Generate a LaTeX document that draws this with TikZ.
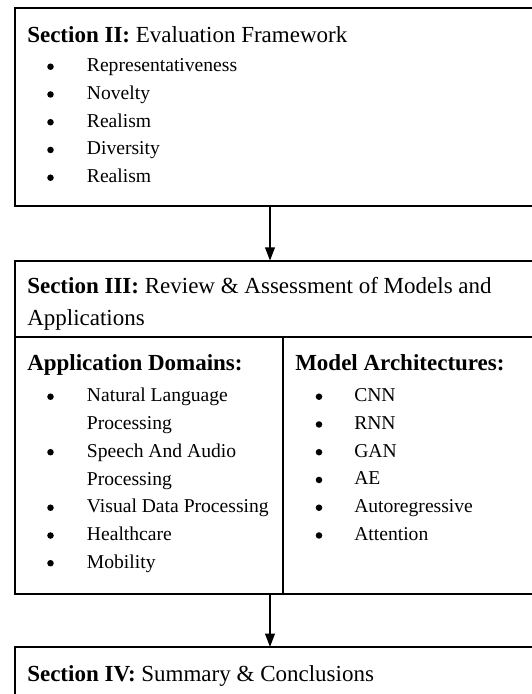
\documentclass[tikz,border=0pt]{standalone}
\usepackage{fontspec}
\setmainfont{Liberation Serif}
\usetikzlibrary{arrows.meta}
\begin{document}
\begin{tikzpicture}[x=0.75pt,y=-0.75pt,
  box/.style={draw, line width=1.5pt, rectangle, inner sep=0pt, outer sep=0pt, anchor=north west},
  rule/.style={line width=1.5pt},
  head/.style={anchor=base west, inner sep=0pt, font=\fontsize{17.25}{20}\selectfont},
  item/.style={anchor=base west, inner sep=0pt, font=\fontsize{14.7}{18}\selectfont},
  dot/.style={circle, fill, inner sep=0pt, minimum size=4.9pt},
  flow/.style={line width=1.5pt, -{Triangle[length=10pt,width=7.2pt]}}]
\useasboundingbox (0,0) rectangle (532,694);
\clip (0,0) rectangle (532,694);

% Section II box
\node[box, minimum width=397.9pt, minimum height=148.5pt] (s2) at (14.5,8) {};
\node[head] (s2t) at (27,42) {\textbf{Section II:} Evaluation Framework};
\foreach \t [count=\i] in {Representativeness, Novelty, Realism, Diversity, Realism} {
  \node[dot] (s2d\i) at (50.5,{66.7+27.75*(\i-1)}) {};
  \node[item] (s2i\i) at (86.7,{71.7+27.75*(\i-1)}) {\t};
}

% Section III box with header row and two columns
\node[box, minimum width=397.9pt, minimum height=250pt] (s3) at (14.5,260.7) {};
\draw[rule] (14.5,337) -- (545,337);
\draw[rule] (283,337) -- (283,594);
\node[head] (s3t) at (27,293.3) {\textbf{Section III:} Review \& Assessment of Models and};
\node[head] (s3u) at (27,325.5) {Applications};

% left column
\node[head] (ad) at (27,370) {\textbf{Application Domains:}};
\node[dot] (ad1) at (50.5,396.7) {};
\node[item] (al1) at (86.7,401.7) {Natural Language};
\node[item] (al1b) at (86.7,429.4) {Processing};
\node[dot] (ad2) at (50.5,452.2) {};
\node[item] (al2) at (86.7,457.2) {Speech And Audio};
\node[item] (al2b) at (86.7,485) {Processing};
\node[dot] (ad3) at (50.5,507.7) {};
\node[item] (al3) at (86.7,512.7) {Visual Data Processing};
\node[dot] (ad4) at (50.5,535.5) {};
\node[item] (al4) at (86.7,540.5) {Healthcare};
\node[dot] (ad5) at (50.5,563.2) {};
\node[item] (al5) at (86.7,568.2) {Mobility};

% right column
\node[head] (ma) at (295,370) {\textbf{Model Architectures:}};
\foreach \t [count=\i] in {CNN, RNN, GAN, AE, Autoregressive, Attention} {
  \node[dot] (md\i) at (319,{396.7+27.75*(\i-1)}) {};
  \node[item] (mi\i) at (354,{401.7+27.75*(\i-1)}) {\t};
}

% Section IV box
\node[box, minimum width=397.9pt, minimum height=60pt] (s4) at (14.5,647) {};
\node[head] (s4t) at (27,681) {\textbf{Section IV:} Summary \& Conclusions};

% connectors
\coordinate (ax) at (270,0);
\draw[flow] (s2.south -| ax) -- (s3.north -| ax);
\draw[flow] (s3.south -| ax) -- (s4.north -| ax);
\end{tikzpicture}
\end{document}
